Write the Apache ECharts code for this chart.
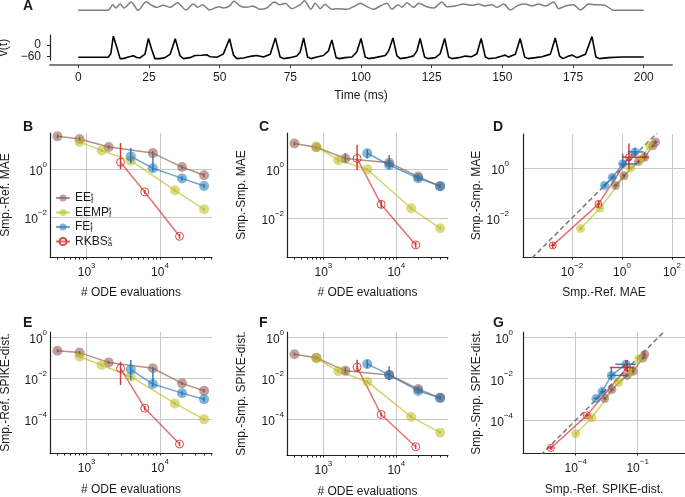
<!DOCTYPE html>
<html><head><meta charset="utf-8">
<script src="https://cdn.jsdelivr.net/npm/echarts@6/dist/echarts.min.js"></script>
<style>html,body{margin:0;padding:0;background:#fff}#c{width:685px;height:497px}</style>
</head><body><div id="c"></div>
<script>
// ---------------- Panel A data ----------------
const inputT = [0,10.6,12.2,13.3,14.8,16.2,18.7,21.2,24.0,26.0,27.7,30.1,32.5,35.1,38.1,40.7,42.3,44.0,46.4,49.6,51.3,53.5,55.1,57.2,59.6,61.7,64.3,66.7,69.3,71.4,73.2,75.5,78.5,80.0,82.3,83.8,85.6,87.3,89.7,92.0,95.0,97.9,99.7,102.1,104.4,106.8,109.2,110.9,113.1,114.5,116.2,118.6,120.4,123.3,125.7,128.6,130.4,133.4,136.3,139.3,141.6,143.7,146.3,148.1,150.5,152.8,155.5,158.1,160.5,162.8,165.2,168.2,169.9,172.3,175.2,177.6,180.6,182.3,184.1,186.4,189.4,200];
const inputV = [0,0,17,7,19,7,25,0,26,15,9,15,9,23,1,19,9,17,1,11,7,13,28,13,9,13,3,7,25,17,21,5,17,29,3,21,5,18,3,5,3,13,21,11,3,13,21,3,17,9,23,9,21,11,7,25,11,13,19,15,19,13,17,9,19,1,15,19,13,19,13,25,5,13,17,1,19,17,17,15,0,0];
const voltT = [0,10.6,11.5,12.4,13.6,14.8,15.9,17.7,19.5,20.7,21.8,23.6,24.8,26.0,27.1,28.9,30.7,32.5,34.3,36.0,37.2,39.5,41.3,43.7,45.4,46.6,49.0,51.3,53.5,54.9,56.1,58.4,61.4,63.1,65.5,67.9,69.7,71.4,72.6,74.9,77.3,78.5,79.7,81.1,82.3,84.4,86.7,88.5,89.7,91.2,92.4,94.4,96.8,98.5,100.0,101.5,102.7,105.0,108.6,109.8,111.3,112.7,113.9,116.2,118.6,119.8,120.9,122.5,123.7,126.3,128.0,129.6,131.0,132.2,134.6,136.9,139.2,141.0,142.5,144.0,145.1,147.5,149.9,151.0,152.2,154.6,156.3,157.9,159.1,161.7,164.0,167.0,168.7,170.2,171.4,173.5,174.7,176.4,179.4,181.7,183.1,184.3,187.6,192.3,200];
const voltV = [-63,-63,-45,45,-10,-70,-70,-62,-55,-64,-66,-47,33,-25,-70,-70,-65,-47,32,-56,-70,-65,-54,-53,-50,-60,-63,-47,32,-52,-70,-67,-57,-54,-62,-47,36,-62,-70,-65,-57,-36,36,-62,-70,-62,-54,-30,26,-65,-70,-65,-62,-36,33,-62,-70,-65,-54,-30,36,-56,-70,-65,-56,-30,33,-62,-70,-65,-45,33,-62,-70,-65,-57,-60,-45,33,-62,-70,-67,-57,-52,-62,-47,33,-62,-70,-65,-60,-47,36,-56,-70,-57,-52,-65,-47,43,-62,-70,-65,-62,-62];
const timeTicks = [0,25,50,75,100,125,150,175,200];
const voltTicks = [-60,0];

// ---------------- Panels B-G data ----------------
const methodNames = ['EE','EEMP','FE','RKBS'];
const nEE   = [400,800,2000,8000,20000,40000];
const nEEMP = [800,1600,4000,16000,40000];
const nFE   = [4000,8000,20000,40000];
const nRK   = [2900,6200,18500];

// B: Smp.-Ref. MAE
const refMAE_EE   = [22,17,8,4.5,1.2,0.55];
const refMAE_EEMP = [13,5.8,2.2,0.133,0.022];
const refMAE_FE   = [3.3,1.07,0.41,0.2];
const refMAE_RK   = [1.9,0.114,0.0017];
// C: Smp.-Smp. MAE
const smpMAE_EE   = [11,7.7,2.7,1.8,0.49,0.2];
const smpMAE_EEMP = [8.1,2.3,0.97,0.025,0.0038];
const smpMAE_FE   = [4.4,1.46,0.42,0.2];
const smpMAE_RK   = [2.7,0.036,0.0008];
// E: Smp.-Ref. SPIKE-dist.
const refSPK_EE   = [0.22,0.18,0.06,0.031,0.0057,0.0025];
const refSPK_EEMP = [0.114,0.045,0.012,0.0006,0.0001];
const refSPK_FE   = [0.027,0.0053,0.0019,0.00095];
const refSPK_RK   = [0.031,0.00035,0.0000063];
// F: Smp.-Smp. SPIKE-dist.
const smpSPK_EE   = [0.15,0.1,0.023,0.0145,0.003,0.0011];
const smpSPK_EEMP = [0.094,0.022,0.0068,0.00013,0.000022];
const smpSPK_FE   = [0.05,0.0145,0.0024,0.0011];
const smpSPK_RK   = [0.035,0.00017,0.0000045];

// error bars: number = multiplicative spread, [lo,hi] = absolute range
const errRefMAE_EE   = [1.2,1.2,1.2,1.2,1.2,1.2];
const errRefMAE_EEMP = [1.15,1.15,1.15,1.15,1.15];
const errRefMAE_FE   = [[1.7,7.3],[0.78,3.8],1.25,1.2];
const errRefMAE_RK   = [[1.0,11.7],1.2,1.25];
const errSmpMAE_EE   = [1.2,1.15,[2.0,4.4],1.2,1.2,1.2];
const errSmpMAE_EEMP = [1.15,1.3,1.15,1.15,1.2];
const errSmpMAE_FE   = [[2.7,6.5],[1.0,3.7],1.25,1.2];
const errSmpMAE_RK   = [[0.9,9.5],1.4,1.3];
const errRefSPK_EE   = [1.2,1.2,1.2,1.2,1.2,1.2];
const errRefSPK_EEMP = [1.15,1.15,1.15,1.15,1.15];
const errRefSPK_FE   = [[0.0083,0.079],[0.0039,0.031],1.3,1.3];
const errRefSPK_RK   = [[0.0047,0.065],1.3,1.3];
const errSmpSPK_EE   = [1.2,1.2,[0.017,0.035],1.2,1.2,1.2];
const errSmpSPK_EEMP = [1.2,1.3,1.2,1.2,1.2];
const errSmpSPK_FE   = [[0.031,0.08],[0.0083,0.037],1.3,1.2];
const errSmpSPK_RK   = [[0.021,0.08],1.3,1.3];

// tick values
const ticksN = [1e3,1e4];
const minorN = [400,500,600,700,800,900,2000,3000,4000,5000,6000,7000,8000,9000,20000,30000,40000,50000];
const ticksMAE = [1e-2,1];
const ticksSPK = [1e-4,1e-2,1];
const ticksDx = [1e-2,1,1e2];
const ticksGx = [1e-4,1e-1];
const diagD = [2.5e-4, 25];
const diagG = [2e-6, 2];

// ---------------- styling / layout ----------------
const FONT = '"Liberation Sans", Arial, Helvetica, sans-serif';
const TXT = '#1a1a1a';
const COLORS = {EE:'#8c564b', EEMP:'#bcbd22', FE:'#1f77b4', RKBS:'#d62728'};
const LEG = {EE:['EE','f','t'], EEMP:['EEMP','f','t'], FE:['FE','f','t'], RKBS:['RKBS','a','x']};

const table = {
  EE:   {n:nEE,   B:refMAE_EE,   C:smpMAE_EE,   E:refSPK_EE,   F:smpSPK_EE,   eB:errRefMAE_EE,   eC:errSmpMAE_EE,   eE:errRefSPK_EE,   eF:errSmpSPK_EE},
  EEMP: {n:nEEMP, B:refMAE_EEMP, C:smpMAE_EEMP, E:refSPK_EEMP, F:smpSPK_EEMP, eB:errRefMAE_EEMP, eC:errSmpMAE_EEMP, eE:errRefSPK_EEMP, eF:errSmpSPK_EEMP},
  FE:   {n:nFE,   B:refMAE_FE,   C:smpMAE_FE,   E:refSPK_FE,   F:smpSPK_FE,   eB:errRefMAE_FE,   eC:errSmpMAE_FE,   eE:errRefSPK_FE,   eF:errSmpSPK_FE},
  RKBS: {n:nRK,   B:refMAE_RK,   C:smpMAE_RK,   E:refSPK_RK,   F:smpSPK_RK,   eB:errRefMAE_RK,   eC:errSmpMAE_RK,   eE:errRefSPK_RK,   eF:errSmpSPK_RK}
};
function range(v, e) { return Array.isArray(e) ? e : [v / e, v * e]; }

function expLabel(v) {
  const e = Math.round(Math.log10(v));
  return '{b|10}{s|' + (e < 0 ? '\u2212' + (-e) : String(e)) + '}';
}
const voltLabel = v => v < 0 ? '\u2212' + (-v) : String(v);
const richTick = {
  b: {fontSize: 12, lineHeight: 12, padding: [5,0,0,0], fontFamily: FONT, color: TXT},
  s: {fontSize: 8, lineHeight: 8, padding: [0,0,9,0], fontFamily: FONT, color: TXT}
};
const AX_LINE = {show: true, onZero: false, lineStyle: {color: '#222', width: 1.2}};
const GRID_LINE = {show: true, showMinLine: true, showMaxLine: true, lineStyle: {color: '#c8c8c8', width: 1}};
const NAME_STYLE = {fontSize: 12, color: TXT, fontFamily: FONT};
const P = e => Math.pow(10, e);

const grids = [
  {left:50, top:0, width:622, height:10.33},   // 0 A input
  {left:50, top:35, width:622, height:25},     // 1 A voltage
  {left:50, top:133, width:162, height:124},   // 2 B
  {left:287, top:133, width:161, height:124},  // 3 C
  {left:523, top:134, width:162, height:123},  // 4 D
  {left:50, top:332, width:162, height:121},   // 5 E
  {left:287, top:332, width:161, height:123},  // 6 F
  {left:523, top:332, width:162, height:121}   // 7 G
].map(g => Object.assign({containLabel: false, outerBoundsMode: 'none'}, g));

function logXMain(gi, lim, majors, ticks, name, gap, split) {
  return {type:'log', gridIndex: gi, position:'bottom', min: P(lim[0]), max: P(lim[1]),
    axisLine: AX_LINE,
    axisTick: {show: true, customValues: ticks, length: 2.5, lineStyle: {color:'#222', width: 1}},
    axisLabel: {customValues: majors, formatter: expLabel, rich: richTick, margin: 7, hideOverlap: false},
    splitLine: split ? GRID_LINE : {show: false},
    name, nameLocation:'middle', nameGap: gap, nameTextStyle: NAME_STYLE};
}
function logXGrid(gi, lim, majors) {
  return {type:'log', gridIndex: gi, position:'top', min: P(lim[0]), max: P(lim[1]),
    axisLine: {show:false}, axisTick: {show:false, customValues: majors}, axisLabel: {show:false, customValues: majors},
    splitLine: GRID_LINE};
}
function logY(gi, lim, majors, name, margin, gap) {
  return {type:'log', gridIndex: gi, min: P(lim[0]), max: P(lim[1]),
    axisLine: AX_LINE, axisTick: {show:false, customValues: majors},
    axisLabel: {customValues: majors, formatter: expLabel, rich: richTick, margin, hideOverlap: false},
    splitLine: GRID_LINE,
    name, nameLocation:'middle', nameGap: gap, nameTextStyle: NAME_STYLE};
}

const limN = [2.5, 4.71];
const xAxis = [
  {type:'value', gridIndex:0, min:-10, max:210, show:false},
  {type:'value', gridIndex:1, min:-10, max:210, offset:5,
    axisLine:{show:true, onZero:false, lineStyle:{color:'#808080', width:2}},
    axisTick:{show:true, customValues: timeTicks, length:3, lineStyle:{color:'#333'}},
    axisLabel:{customValues: timeTicks, fontSize:12, color:TXT, fontFamily:FONT, margin:7, hideOverlap:false},
    splitLine:{show:false}, name:'Time (ms)', nameLocation:'middle', nameGap:25, nameTextStyle:NAME_STYLE},
  logXMain(2, limN, ticksN, ticksN.concat(minorN), '# ODE evaluations', 30, false), // 2
  logXGrid(2, limN, ticksN),                                                          // 3
  logXMain(3, limN, ticksN, ticksN.concat(minorN), '# ODE evaluations', 30, false), // 4
  logXGrid(3, limN, ticksN),                                                          // 5
  logXMain(4, [-3.96, 2.52], ticksDx, ticksDx, 'Smp.-Ref. MAE', 30, true),           // 6
  logXMain(5, limN, ticksN, ticksN.concat(minorN), '# ODE evaluations', 31, false), // 7
  logXGrid(5, limN, ticksN),                                                          // 8
  logXMain(6, limN, ticksN, ticksN.concat(minorN), '# ODE evaluations', 31, false), // 9
  logXGrid(6, limN, ticksN),                                                          // 10
  logXMain(7, [-6.55, 1.29], ticksGx, ticksGx, 'Smp.-Ref. SPIKE-dist.', 31, true)   // 11
];
const yAxis = [
  {type:'value', gridIndex:0, min:0, max:31, show:false},
  // voltage axis: line, lower tick and name
  {type:'value', gridIndex:1, position:'left', min:-77, max:51,
    axisLine:{show:true, onZero:false, lineStyle:{color:'#222', width:1.2}},
    axisTick:{show:true, customValues: voltTicks.slice(0,1), length:3, lineStyle:{color:'#222'}},
    axisLabel:{customValues: voltTicks.slice(0,1), formatter: voltLabel, fontSize:12,
      color:TXT, fontFamily:FONT, margin:9, hideOverlap:false},
    splitLine:{show:false}, name:'v(t)', nameLocation:'middle', nameGap:38, nameTextStyle:NAME_STYLE},
  logY(2, [-3.62, 1.48], ticksMAE, 'Smp.-Ref. MAE', 3, 38),
  logY(3, [-3.59, 1.47], ticksMAE, 'Smp.-Smp. MAE', 3, 39),
  logY(4, [-3.56, 1.36], ticksMAE, 'Smp.-Smp. MAE', 14, 40),
  logY(5, [-5.64, 0.26], ticksSPK, 'Smp.-Ref. SPIKE-dist.', 3, 38),
  logY(6, [-5.75, 0.26], ticksSPK, 'Smp.-Smp. SPIKE-dist.', 3, 39),
  logY(7, [-5.59, 0.26], ticksSPK, 'Smp.-Smp. SPIKE-dist.', 10, 40),
  // voltage axis twin carrying the upper tick (moved onto the left edge of the grid)
  {type:'value', gridIndex:1, position:'right', offset:-622, min:-77, max:51,
    axisLine:{show:false, onZero:false},
    axisTick:{show:true, inside:true, customValues: voltTicks.slice(1), length:3, lineStyle:{color:'#222'}},
    axisLabel:{inside:true, customValues: voltTicks.slice(1), formatter: voltLabel, fontSize:12,
      color:TXT, fontFamily:FONT, margin:9, hideOverlap:false},
    splitLine:{show:false}}
];

const series = [];
series.push({type:'line', xAxisIndex:0, yAxisIndex:0, data: inputT.map((t,i)=>[t, inputV[i]]),
  showSymbol:false, smooth:0.25, lineStyle:{color:'#7f7f7f', width:1.5}, silent:true});
series.push({type:'line', xAxisIndex:1, yAxisIndex:1, data: voltT.map((t,i)=>[t, voltV[i]]),
  showSymbol:false, lineStyle:{color:'#000', width:1.6}, silent:true});

function lineSeries(name, data, xi, yi, size) {
  const col = COLORS[name], open = name === 'RKBS';
  return {type:'line', name, xAxisIndex: xi, yAxisIndex: yi, data, symbol:'circle',
    symbolSize: open ? size - 2 : size, showSymbol: true, clip: true, silent: true, z: 2,
    lineStyle: {color: col, width: 1.5, opacity: 0.65},
    itemStyle: open ? {color:'rgba(255,255,255,0)', borderColor: col, borderWidth: 1, opacity: 0.85}
                    : {color: col, opacity: 0.55, borderWidth: 0}};
}
function errV(name, items, xi, yi) {
  const col = COLORS[name];
  return {type:'custom', xAxisIndex: xi, yAxisIndex: yi, data: items, clip: true, silent: true, z: 3,
    encode: {x: 0, y: [1, 2]},
    renderItem: (p, api) => {
      const a = api.coord([api.value(0), api.value(1)]), b = api.coord([api.value(0), api.value(2)]);
      return {type:'line', shape:{x1:a[0], y1:a[1], x2:b[0], y2:b[1]}, style:{stroke: col, lineWidth: 1.5, opacity: 0.9}};
    }};
}
function errXY(name, items, xi, yi) {
  const col = COLORS[name];
  return {type:'custom', xAxisIndex: xi, yAxisIndex: yi, data: items, clip: true, silent: true, z: 3,
    encode: {x: [0, 2, 3], y: [1, 4, 5]},
    renderItem: (p, api) => {
      const x = api.value(0), y = api.value(1);
      const a = api.coord([api.value(2), y]), b = api.coord([api.value(3), y]);
      const c = api.coord([x, api.value(4)]), d = api.coord([x, api.value(5)]);
      const st = {stroke: col, lineWidth: 1.5, opacity: 0.9};
      return {type:'group', children:[
        {type:'line', shape:{x1:a[0], y1:a[1], x2:b[0], y2:b[1]}, style: st},
        {type:'line', shape:{x1:c[0], y1:c[1], x2:d[0], y2:d[1]}, style: st}]};
    }};
}
function diagSeries(lims, xi, yi) {
  return {type:'line', xAxisIndex: xi, yAxisIndex: yi, data: lims.map(v => [v, v]), showSymbol:false, clip:true,
    silent:true, z:1, lineStyle:{color:'#777', width:1.5, type:[5,3]}};
}

// panels over N
const nPanels = [['B', 2, 2], ['C', 4, 3], ['E', 7, 5], ['F', 9, 6]];
nPanels.forEach(([k, xi, yi]) => {
  methodNames.forEach(m => {
    const t = table[m];
    series.push(lineSeries(m, t.n.map((n,i)=>[n, t[k][i]]), xi, yi, 10));
    series.push(errV(m, t.n.map((n,i)=>[n].concat(range(t[k][i], t['e'+k][i]))), xi, yi));
  });
});
// scatter-vs panels D (B vs C) and G (E vs F)
series.push(diagSeries(diagD, 6, 4));
series.push(diagSeries(diagG, 11, 7));
[['B','C', 6, 4], ['E','F', 11, 7]].forEach(([kx, ky, xi, yi]) => {
  methodNames.forEach(m => {
    const t = table[m];
    series.push(lineSeries(m, t[kx].map((v,i)=>[v, t[ky][i]]), xi, yi, 9));
    series.push(errXY(m, t[kx].map((v,i)=>[v, t[ky][i]].concat(range(v, t['e'+kx][i]), range(t[ky][i], t['e'+ky][i]))), xi, yi));
  });
});

const letters = [['A',23,-1],['B',23,120],['C',259,120],['D',493,120],['E',23,316],['F',259,316],['G',493,316]];
const option = {
  animation: false,
  backgroundColor: '#fff',
  textStyle: {fontFamily: FONT},
  title: letters.map(([t, l, tp]) => ({text: t, left: l, top: tp, padding: 0,
    textStyle: {fontSize: 14, fontWeight: 'bold', color: TXT, fontFamily: FONT}})),
  legend: {data: methodNames, orient: 'vertical', left: 55, top: 191, itemGap: 0.5, itemWidth: 14, itemHeight: 9,
    padding: 0, selectedMode: false,
    formatter: n => '{n|' + LEG[n][0] + '}{d|' + LEG[n][1] + '}{u|' + LEG[n][2] + '}',
    textStyle: {color: TXT, fontFamily: FONT, rich: {
      n: {fontSize: 12, lineHeight: 11, padding: [1,0,1,0], color: TXT, fontFamily: FONT},
      d: {fontSize: 8, lineHeight: 8, padding: [5,0,0,0], width: 0, color: TXT, fontFamily: FONT},
      u: {fontSize: 8, lineHeight: 8, padding: [0,0,5,0], color: TXT, fontFamily: FONT}}}},
  grid: grids,
  xAxis, yAxis, series
};
const chart = echarts.init(document.getElementById('c'), null, {renderer: 'canvas'});
chart.setOption(option);
</script>
</body></html>
